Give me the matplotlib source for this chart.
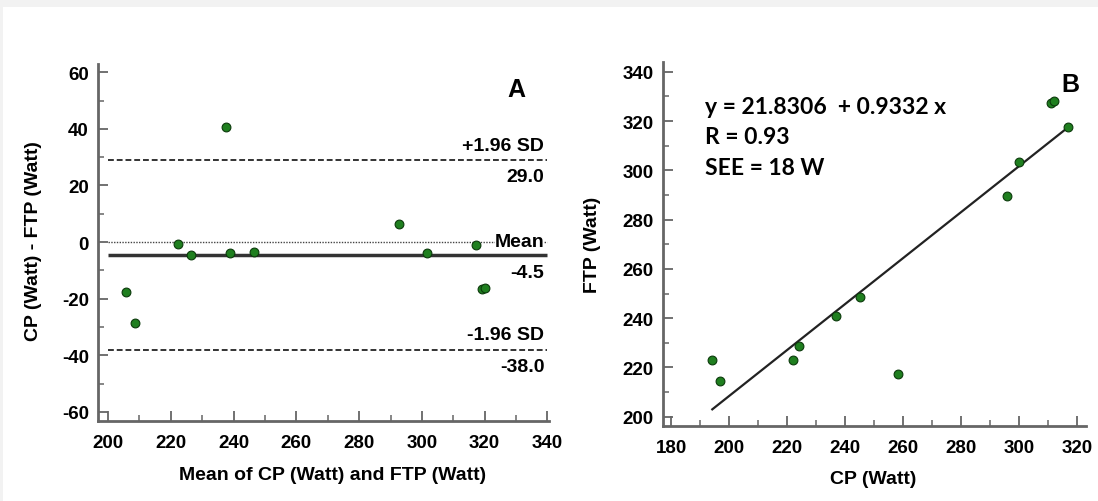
import numpy as np
import matplotlib
matplotlib.use("Agg")
import matplotlib.pyplot as plt
from matplotlib.patches import Rectangle
from matplotlib.ticker import MultipleLocator

# values
cp = np.array([194.1, 196.9, 222.0, 224.1, 236.9, 244.9, 258.0, 295.7, 299.8, 310.8, 312.0, 316.7])
ftp = np.array([222.8, 214.5, 222.8, 228.6, 240.7, 248.4, 217.3, 289.4, 303.5, 327.5, 328.2, 317.6])

# Bland-Altman panel
ba_mean = (cp + ftp) / 2
ba_diff = cp - ftp
bias = -4.5
upper_loa = 29.0
lower_loa = -38.0

# regression panel
intercept = 21.8306
slope = 0.9332
reg_text = ["y = 21.8306  + 0.9332 x", "R = 0.93", "SEE = 18 W"]

plt.rcParams["font.family"] = ["Liberation Sans", "DejaVu Sans"]
plt.rcParams["font.weight"] = "bold"
plt.rcParams["axes.unicode_minus"] = False

spine_col = "#666666"
pt_face = "#1f7f1f"
pt_edge = "#0b3a0b"

fig = plt.figure(figsize=(10.98, 5.02), dpi=100)
fig.patch.set_facecolor("#f2f2f2")
fig.patches.append(Rectangle((3 / 1098, 0), 1, 494 / 502, transform=fig.transFigure,
                             facecolor="white", edgecolor="none", zorder=-10))


def style_axes(ax):
    for s in ["top", "right"]:
        ax.spines[s].set_visible(False)
    for s in ["left", "bottom"]:
        ax.spines[s].set_color(spine_col)
        ax.spines[s].set_linewidth(2)
    ax.tick_params(which="both", direction="in", color=spine_col, labelsize=13.5)
    ax.tick_params(axis="x", pad=9.5)
    ax.tick_params(axis="y", pad=6.5)
    ax.tick_params(which="major", length=7, width=1.3)
    ax.tick_params(which="minor", length=4, width=1.1)
    ax.xaxis.set_major_locator(MultipleLocator(20))
    ax.xaxis.set_minor_locator(MultipleLocator(10))
    ax.yaxis.set_major_locator(MultipleLocator(20))
    ax.yaxis.set_minor_locator(MultipleLocator(10))
    ax.patch.set_alpha(0)


def place_labels(ax, xl, yl):
    ax.xaxis.set_label_coords(*xl)
    ax.yaxis.set_label_coords(*yl)
    ax.xaxis.label.set_verticalalignment("center")
    ax.yaxis.label.set_verticalalignment("center")


# panel A
axA = fig.add_axes([98 / 1098, 1 - 422 / 502, 451 / 1098, 357 / 502])
style_axes(axA)
axA.set_xlim(196.8, 340.5)
axA.set_ylim(-63.2, 62.9)

axA.hlines(0, 200, 340, colors="#444444", linestyles=(0, (1, 1)), linewidth=1)
axA.hlines(bias, 200, 340, colors="#333333", linewidth=2.5)
axA.hlines([upper_loa, lower_loa], 200, 340, colors="#333333",
           linestyles=(0, (3, 1.5)), linewidth=1.4)
axA.scatter(ba_mean, ba_diff, s=40, facecolor=pt_face, edgecolor=pt_edge, linewidth=0.8, zorder=3)

lab_kw = dict(ha="right", va="center", fontsize=14, fontweight="bold")
axA.text(339, upper_loa + 5.2, "+1.96 SD", **lab_kw)
axA.text(339, upper_loa - 5.8, f"{upper_loa:.1f}", **lab_kw)
axA.text(339, 0.3, "Mean", bbox=dict(facecolor="white", edgecolor="none", pad=0), **lab_kw)
axA.text(339, bias - 6.2, f"{bias:.1f}", **lab_kw)
axA.text(339, lower_loa + 5.2, "-1.96 SD", **lab_kw)
axA.text(339, lower_loa - 5.8, f"{lower_loa:.1f}", **lab_kw)
axA.text(333, 54, "A", ha="right", va="center", fontsize=18, fontweight="bold")

axA.set_xlabel("Mean of CP (Watt) and FTP (Watt)", fontsize=14, fontweight="bold")
axA.set_ylabel("CP (Watt) - FTP (Watt)", fontsize=14, fontweight="bold")
place_labels(axA, (0.519, -0.1485), (-0.144, 0.507))

# panel B
axB = fig.add_axes([663 / 1098, 1 - 427 / 502, 423 / 1098, 364 / 502])
style_axes(axB)
axB.set_xlim(177.1, 323.0)
axB.set_ylim(196.2, 344.0)

xfit = np.array([cp.min(), cp.max()])
axB.plot(xfit, intercept + slope * xfit, color="#222222", linewidth=1.6, zorder=2)
axB.scatter(cp, ftp, s=40, facecolor=pt_face, edgecolor=pt_edge, linewidth=0.8, zorder=3)

for i, t in enumerate(reg_text):
    axB.text(0.099, 0.879 - i * 0.084, t, transform=axB.transAxes, ha="left", va="center",
             fontsize=16.5, fontweight="bold", family=["Lato", "DejaVu Sans"])
axB.text(0.985, 0.94, "B", transform=axB.transAxes, ha="right", va="center",
         fontsize=18, fontweight="bold")

axB.set_xlabel("CP (Watt)", fontsize=14, fontweight="bold")
axB.set_ylabel("FTP (Watt)", fontsize=14, fontweight="bold")
place_labels(axB, (0.4965, -0.1429), (-0.1655, 0.5))

fig.savefig("out.png", dpi=100, facecolor=fig.get_facecolor())
